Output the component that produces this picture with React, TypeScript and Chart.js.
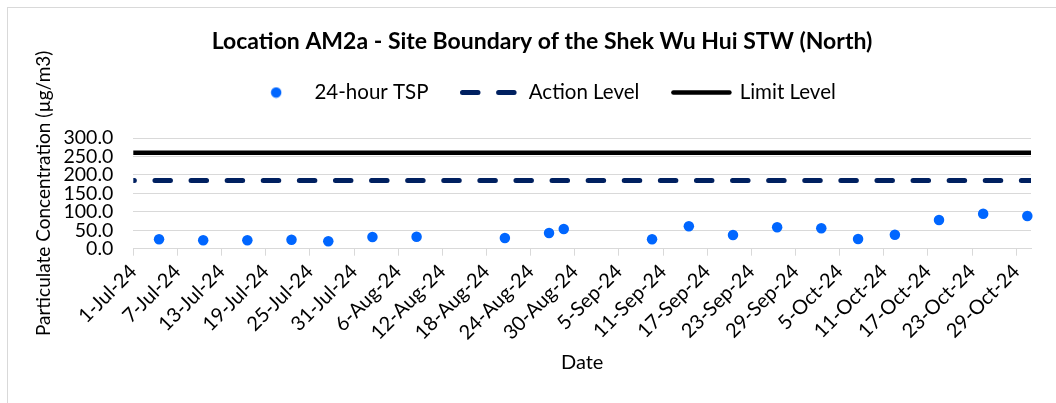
import { useEffect, useRef } from 'react';
import { Chart, registerables } from 'chart.js';

Chart.register(...registerables);

const FONT = 'Lato, "Noto Sans", sans-serif';

const chartTitle = 'Location AM2a - Site Boundary of the Shek Wu Hui STW (North)';
const yAxisTitle = 'Particulate Concentration (µg/m3)';
const xAxisTitle = 'Date';
const seriesNames = ['24-hour TSP', 'Action Level', 'Limit Level'];

const axisStart = '1-Jul-24';
const axisEnd = '31-Oct-24';

const xTickLabels = [
  '1-Jul-24', '7-Jul-24', '13-Jul-24', '19-Jul-24', '25-Jul-24', '31-Jul-24',
  '6-Aug-24', '12-Aug-24', '18-Aug-24', '24-Aug-24', '30-Aug-24', '5-Sep-24',
  '11-Sep-24', '17-Sep-24', '23-Sep-24', '29-Sep-24', '5-Oct-24', '11-Oct-24',
  '17-Oct-24', '23-Oct-24', '29-Oct-24',
];

const yTickValues = [0, 50, 100, 150, 200, 250, 300];

const sampleDates = [
  '4-Jul-24', '10-Jul-24', '16-Jul-24', '22-Jul-24', '27-Jul-24', '2-Aug-24',
  '8-Aug-24', '20-Aug-24', '26-Aug-24', '28-Aug-24', '9-Sep-24', '14-Sep-24',
  '20-Sep-24', '26-Sep-24', '2-Oct-24', '7-Oct-24', '12-Oct-24', '18-Oct-24',
  '24-Oct-24', '30-Oct-24',
];

const tspValues = [
  25.5, 22.7, 22.7, 24.4, 20.0, 31.7,
  32.5, 29.0, 42.5, 53.4, 25.5, 60.7,
  37.0, 58.0, 55.3, 26.3, 38.0, 77.8,
  94.9, 88.6,
];

const actionLevel = [185, 185];
const limitLevel = [260, 260];

const TSP_COLOR = '#0066FF';
const ACTION_COLOR = '#002060';
const LIMIT_COLOR = '#000000';
const GRID_COLOR = '#D9D9D9';

const MONTHS = ['Jan', 'Feb', 'Mar', 'Apr', 'May', 'Jun', 'Jul', 'Aug', 'Sep', 'Oct', 'Nov', 'Dec'];
const parseDate = (s: string) => {
  const [d, m, y] = s.split('-');
  return Date.UTC(2000 + Number(y), MONTHS.indexOf(m), Number(d));
};
const BASE = parseDate(axisStart);
const toDay = (s: string) => (parseDate(s) - BASE) / 86400000;

const ACTION_DASH = [15.5, 20.6];

export default function App() {
  const ref = useRef<HTMLCanvasElement | null>(null);

  useEffect(() => {
    const canvas = ref.current;
    if (!canvas) return;

    const dot = document.createElement('canvas');
    dot.width = 12;
    dot.height = 12;
    const dctx = dot.getContext('2d');
    if (dctx) {
      dctx.fillStyle = TSP_COLOR;
      dctx.beginPath();
      dctx.arc(6, 6, 5.25, 0, Math.PI * 2);
      dctx.fill();
    }

    const chart = new Chart(canvas, {
      type: 'line',
      data: {
        datasets: [
          {
            label: seriesNames[0],
            data: sampleDates.map((d, i) => ({ x: toDay(d) + 0.5, y: tspValues[i] })),
            showLine: false,
            pointRadius: 5.25,
            pointHoverRadius: 5.25,
            pointBackgroundColor: TSP_COLOR,
            pointBorderWidth: 0,
            backgroundColor: TSP_COLOR,
            borderColor: TSP_COLOR,
            clip: 8,
            order: 0,
          },
          {
            label: seriesNames[1],
            data: [
              { x: toDay(axisStart), y: actionLevel[0] },
              { x: toDay(axisEnd), y: actionLevel[1] },
            ],
            borderColor: ACTION_COLOR,
            borderWidth: 5,
            borderDash: ACTION_DASH,
            borderDashOffset: 14.45,
            borderCapStyle: 'round',
            pointRadius: 0,
            order: 2,
          },
          {
            label: seriesNames[2],
            data: [
              { x: toDay(axisStart), y: limitLevel[0] },
              { x: toDay(axisEnd), y: limitLevel[1] },
            ],
            borderColor: LIMIT_COLOR,
            borderWidth: 4.5,
            borderCapStyle: 'round',
            pointRadius: 0,
            order: 1,
          },
        ],
      },
      options: {
        animation: false,
        responsive: false,
        maintainAspectRatio: false,
        events: [],
        layout: { padding: 0 },
        plugins: {
          tooltip: { enabled: false },
          title: {
            display: true,
            text: chartTitle,
            color: '#000',
            font: { family: FONT, size: 23, weight: 'bold', lineHeight: 1.2 },
            padding: { top: 28.2, bottom: -7.55 },
          },
          legend: {
            display: true,
            position: 'top',
            labels: {
              usePointStyle: true,
              pointStyleWidth: 56,
              padding: 34,
              color: '#000',
              font: { family: FONT, size: 20.5 },
              generateLabels: () => [
                {
                  text: seriesNames[0],
                  pointStyle: dot,
                  fillStyle: TSP_COLOR,
                  strokeStyle: TSP_COLOR,
                  lineWidth: 0,
                  datasetIndex: 0,
                  hidden: false,
                  fontColor: '#000',
                },
                {
                  text: seriesNames[1],
                  pointStyle: 'line',
                  fillStyle: ACTION_COLOR,
                  strokeStyle: ACTION_COLOR,
                  lineWidth: 5,
                  lineDash: ACTION_DASH,
                  lineCap: 'round',
                  datasetIndex: 1,
                  hidden: false,
                  fontColor: '#000',
                },
                {
                  text: seriesNames[2],
                  pointStyle: 'line',
                  fillStyle: LIMIT_COLOR,
                  strokeStyle: LIMIT_COLOR,
                  lineWidth: 4.5,
                  lineCap: 'round',
                  datasetIndex: 2,
                  hidden: false,
                  fontColor: '#000',
                },
              ],
            },
          },
          subtitle: {
            display: true,
            text: '',
            weight: 500,
            font: { size: 10, lineHeight: 1 },
            padding: { top: 15.25, bottom: 0 },
          },
        },
        scales: {
          x: {
            type: 'linear',
            min: toDay(axisStart),
            max: toDay(axisEnd),
            afterBuildTicks: (s: any) => {
              s.ticks = xTickLabels.map((l) => ({ value: toDay(l) }));
            },
            ticks: {
              autoSkip: false,
              minRotation: 45,
              maxRotation: 45,
              padding: 4,
              color: '#000',
              font: { family: FONT, size: 20 },
              callback: (_v: any, i: number) => xTickLabels[i],
            },
            grid: {
              drawOnChartArea: false,
              drawTicks: true,
              tickLength: 7,
              color: GRID_COLOR,
              lineWidth: 1,
            },
            border: { display: true, color: GRID_COLOR, width: 1 },
            title: {
              display: true,
              text: xAxisTitle,
              color: '#000',
              font: { family: FONT, size: 20 },
              padding: { top: 0, bottom: 28 },
            },
            afterFit: (s: any) => {
              s.height = 154.3;
            },
          },
          y: {
            type: 'linear',
            position: 'left',
            min: 0,
            max: 300,
            afterBuildTicks: (s: any) => {
              s.ticks = yTickValues.map((v) => ({ value: v }));
            },
            ticks: {
              autoSkip: false,
              padding: 20,
              color: '#000',
              font: { family: FONT, size: 19.5 },
              callback: (v: any) => Number(v).toFixed(1),
            },
            grid: { drawTicks: false, color: GRID_COLOR, lineWidth: 1 },
            border: { display: false },
            title: {
              display: true,
              text: yAxisTitle,
              color: '#000',
              font: { family: FONT, size: 19 },
              padding: { top: 32, bottom: 0 },
            },
            afterFit: (s: any) => {
              s.width = 133.3;
            },
          },
          yPad: {
            type: 'linear',
            position: 'right',
            display: true,
            grid: { display: false },
            ticks: { display: false },
            border: { display: false },
            afterFit: (s: any) => {
              s.width = 53;
            },
          },
        },
      } as any,
    });

    return () => chart.destroy();
  }, []);

  return (
    <div
      style={{
        position: 'fixed',
        left: 0,
        top: 0,
        width: 1056,
        height: 403,
        overflow: 'hidden',
        background: '#fff',
      }}
    >
      <div
        style={{
          position: 'absolute',
          left: 7,
          top: 7,
          width: 1200,
          height: 600,
          border: `1px solid ${GRID_COLOR}`,
        }}
      />
      <canvas
        ref={ref}
        width={1084}
        height={403}
        style={{ position: 'absolute', left: 0, top: 0, width: 1084, height: 403 }}
      />
    </div>
  );
}
